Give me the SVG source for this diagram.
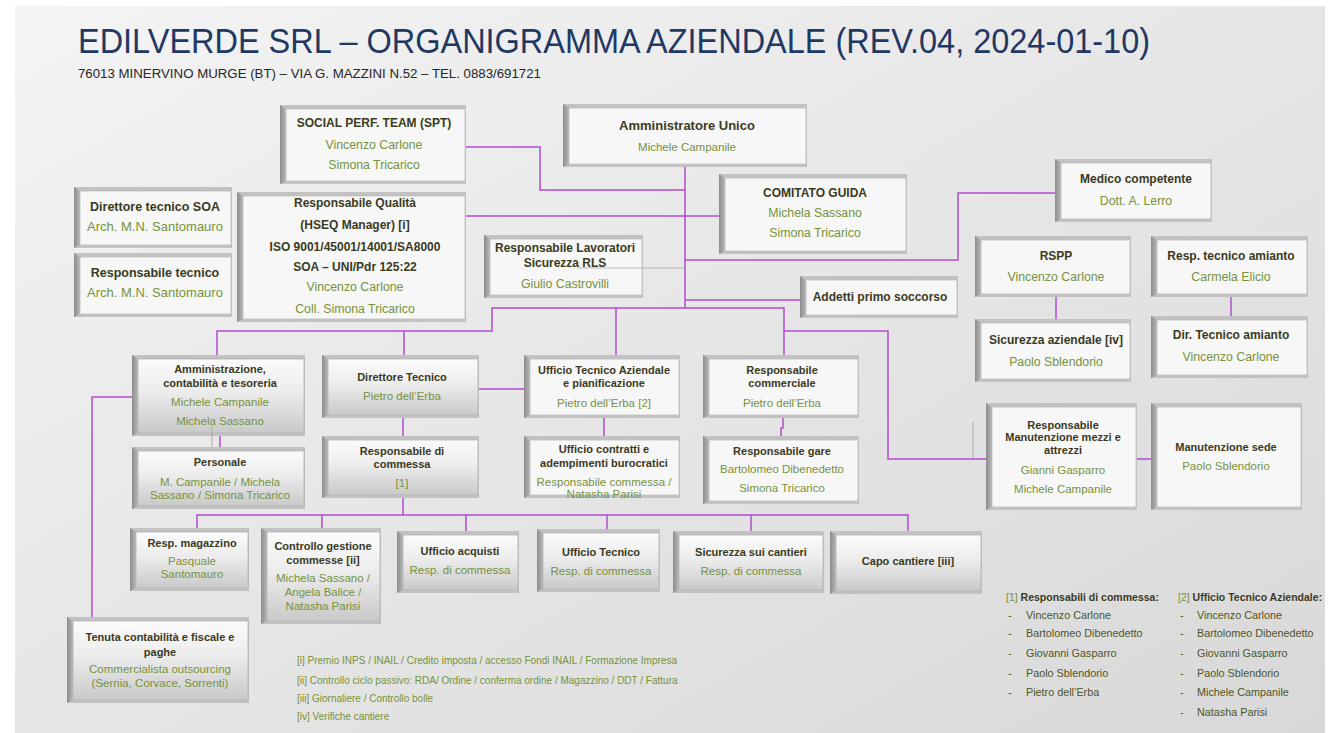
<svg xmlns="http://www.w3.org/2000/svg" width="1340" height="733" viewBox="0 0 1340 733">
<defs>
<linearGradient id="bg" x1="0" y1="0" x2="1" y2="1"><stop offset="0" stop-color="#f4f4f4"/><stop offset="0.5" stop-color="#e6e6e6"/><stop offset="1" stop-color="#d8d8d8"/></linearGradient>
<linearGradient id="lb" x1="0" y1="0" x2="1" y2="0"><stop offset="0" stop-color="#8c8c8c"/><stop offset="1" stop-color="#b8b8b8"/></linearGradient>
<linearGradient id="gf" x1="0" y1="0" x2="0" y2="1"><stop offset="0" stop-color="#fbfbfb"/><stop offset="0.45" stop-color="#ececec"/><stop offset="1" stop-color="#c9c9c9"/></linearGradient>
<linearGradient id="pl" x1="0" y1="0" x2="1" y2="0"><stop offset="0" stop-color="#a648c8"/><stop offset="1" stop-color="#c98fe0"/></linearGradient>
<style>
.o{fill:#c2c2c2}
.l{fill:url(#lb)}
.f{fill:#f7f7f7;stroke:#bdbdbd;stroke-width:0.8}
.g{fill:url(#gf);stroke:#b5b5b5;stroke-width:0.8}
text{font-family:"Liberation Sans",Arial,sans-serif}
.t{font-weight:bold;font-size:11px;fill:#3a3a22;text-anchor:middle}
.n{font-size:11.5px;fill:#76923c;text-anchor:middle}
.t2{font-weight:bold;font-size:12px;fill:#3a3a22;text-anchor:middle}
.n2{font-size:12.3px;fill:#76923c;text-anchor:middle}
.t3{font-weight:bold;font-size:13px;fill:#3a3a22;text-anchor:middle}
.tL{font-weight:bold;font-size:12.5px;fill:#3a3a22;text-anchor:middle}
.nL{font-size:13px;fill:#76923c;text-anchor:middle}
.fn{font-size:10px;fill:#76923c}
.lh{font-weight:bold;font-size:10.5px;fill:#3a3a22}
.lk{font-size:10.5px;fill:#76923c;font-weight:normal}
.ln{font-size:10.8px;fill:#4d5526}
.c{fill:none;stroke:#b24bd0;stroke-width:1.5}
.cg{fill:none;stroke:#a8a8a8;stroke-width:1.2;opacity:0.8}
</style>
</defs>
<rect width="1340" height="733" fill="#ffffff"/>
<rect x="15" y="6" width="1310" height="727" fill="url(#bg)"/>
<g id="header">
<text x="78" y="53" font-family="'Lato Light', Lato, 'Liberation Sans', sans-serif" font-weight="300" font-size="35" fill="#1f3864" textLength="1072" lengthAdjust="spacingAndGlyphs">EDILVERDE SRL – ORGANIGRAMMA AZIENDALE (REV.04, 2024-01-10)</text>
<text x="78" y="78" font-size="12.5" fill="#262626" textLength="463" lengthAdjust="spacingAndGlyphs">76013 MINERVINO MURGE (BT) – VIA G. MAZZINI N.52 – TEL. 0883/691721</text>
<line x1="68" y1="88" x2="1305" y2="88" stroke="url(#pl)" stroke-width="2"/>
</g>
<g id="nodes">
<g id="n-spt"><rect class="o" x="280" y="105" width="186" height="79"/><path class="l" d="M280 105 l6 4 v72 l-6 3 z"/><rect class="f" x="286" y="109" width="179" height="72"/>
<text class="t2" x="374" y="127">SOCIAL PERF. TEAM (SPT)</text><text class="n2" x="374" y="149">Vincenzo Carlone</text><text class="n2" x="374" y="169">Simona Tricarico</text></g>
<g id="n-au"><rect class="o" x="563" y="104" width="244" height="63"/><path class="l" d="M563 104 l6 4 v56 l-6 3 z"/><rect class="f" x="569" y="108" width="237" height="56"/>
<text class="t3" x="687" y="130">Amministratore Unico</text><text class="n" x="687" y="151">Michele Campanile</text></g>
<g id="n-cg"><rect class="o" x="719" y="174" width="188" height="80"/><path class="l" d="M719 174 l6 4 v73 l-6 3 z"/><rect class="f" x="725" y="178" width="181" height="73"/>
<text class="t2" x="815" y="197">COMITATO GUIDA</text><text class="n2" x="815" y="217">Michela Sassano</text><text class="n2" x="815" y="237">Simona Tricarico</text></g>
<g id="n-med"><rect class="o" x="1055" y="159" width="157" height="63"/><path class="l" d="M1055 159 l6 4 v56 l-6 3 z"/><rect class="f" x="1061" y="163" width="150" height="56"/>
<text class="t2" x="1136" y="183">Medico competente</text><text class="n2" x="1136" y="205">Dott. A. Lerro</text></g>
<g id="n-soa"><rect class="o" x="74" y="187" width="158" height="61"/><path class="l" d="M74 187 l6 4 v54 l-6 3 z"/><rect class="f" x="80" y="191" width="151" height="54"/>
<text class="tL" x="155" y="211">Direttore tecnico SOA</text><text class="nL" x="155" y="231">Arch. M.N. Santomauro</text></g>
<g id="n-rt"><rect class="o" x="74" y="253" width="158" height="64"/><path class="l" d="M74 253 l6 4 v57 l-6 3 z"/><rect class="f" x="80" y="257" width="151" height="57"/>
<text class="tL" x="155" y="277">Responsabile tecnico</text><text class="nL" x="155" y="297">Arch. M.N. Santomauro</text></g>
<g id="n-q"><rect class="o" x="237" y="192" width="229" height="130"/><path class="l" d="M237 192 l6 4 v123 l-6 3 z"/><rect class="f" x="243" y="196" width="222" height="123"/>
<text class="t2" x="355" y="207">Responsabile Qualità</text><text class="t2" x="355" y="229">(HSEQ Manager) [i]</text><text class="t2" x="355" y="251">ISO 9001/45001/14001/SA8000</text><text class="t2" x="355" y="271">SOA – UNI/Pdr 125:22</text><text class="n2" x="355" y="291">Vincenzo Carlone</text><text class="n2" x="355" y="313">Coll. Simona Tricarico</text></g>
<g id="n-rls"><rect class="o" x="484" y="235" width="159" height="63"/><path class="l" d="M484 235 l6 4 v56 l-6 3 z"/><rect class="f" x="490" y="239" width="152" height="56"/>
<text class="t2" x="565" y="252">Responsabile Lavoratori</text><text class="t2" x="565" y="267">Sicurezza RLS</text><text class="n2" x="565" y="288">Giulio Castrovilli</text></g>
<g id="n-add"><rect class="o" x="800" y="276" width="158" height="42"/><path class="l" d="M800 276 l6 4 v35 l-6 3 z"/><rect class="f" x="806" y="280" width="151" height="35"/>
<text class="t2" x="880" y="301">Addetti primo soccorso</text></g>
<g id="n-rspp"><rect class="o" x="975" y="236" width="156" height="61"/><path class="l" d="M975 236 l6 4 v54 l-6 3 z"/><rect class="f" x="981" y="240" width="149" height="54"/>
<text class="t2" x="1056" y="260">RSPP</text><text class="n2" x="1056" y="281">Vincenzo Carlone</text></g>
<g id="n-sicaz"><rect class="o" x="975" y="319" width="156" height="63"/><path class="l" d="M975 319 l6 4 v56 l-6 3 z"/><rect class="f" x="981" y="323" width="149" height="56"/>
<text class="t2" x="1056" y="344">Sicurezza aziendale [iv]</text><text class="n2" x="1056" y="366">Paolo Sblendorio</text></g>
<g id="n-ram"><rect class="o" x="1151" y="236" width="157" height="61"/><path class="l" d="M1151 236 l6 4 v54 l-6 3 z"/><rect class="f" x="1157" y="240" width="150" height="54"/>
<text class="t2" x="1231" y="260">Resp. tecnico amianto</text><text class="n2" x="1231" y="281">Carmela Elicio</text></g>
<g id="n-dam"><rect class="o" x="1151" y="316" width="157" height="62"/><path class="l" d="M1151 316 l6 4 v55 l-6 3 z"/><rect class="f" x="1157" y="320" width="150" height="55"/>
<text class="t2" x="1231" y="339">Dir. Tecnico amianto</text><text class="n2" x="1231" y="361">Vincenzo Carlone</text></g>
<g id="n-amm"><rect class="o" x="132" y="355" width="173" height="81"/><path class="l" d="M132 355 l6 4 v74 l-6 3 z"/><rect class="g" x="138" y="359" width="166" height="74"/>
<text class="t" x="220" y="373">Amministrazione,</text><text class="t" x="220" y="387">contabilità  e tesoreria</text><text class="n" x="220" y="406">Michele Campanile</text><text class="n" x="220" y="425">Michela Sassano</text></g>
<g id="n-dt"><rect class="o" x="322" y="355" width="157" height="63"/><path class="l" d="M322 355 l6 4 v56 l-6 3 z"/><rect class="g" x="328" y="359" width="150" height="56"/>
<text class="t" x="402" y="381">Direttore Tecnico</text><text class="n" x="402" y="400">Pietro dell’Erba</text></g>
<g id="n-uta"><rect class="o" x="524" y="355" width="156" height="63"/><path class="l" d="M524 355 l6 4 v56 l-6 3 z"/><rect class="f" x="530" y="359" width="149" height="56"/>
<text class="t" x="604" y="374">Ufficio Tecnico Aziendale</text><text class="t" x="604" y="387">e pianificazione</text><text class="n" x="604" y="407">Pietro dell’Erba [2]</text></g>
<g id="n-com"><rect class="o" x="703" y="355" width="156" height="63"/><path class="l" d="M703 355 l6 4 v56 l-6 3 z"/><rect class="f" x="709" y="359" width="149" height="56"/>
<text class="t" x="782" y="374">Responsabile</text><text class="t" x="782" y="387">commerciale</text><text class="n" x="782" y="407">Pietro dell’Erba</text></g>
<g id="n-pers"><rect class="o" x="132" y="447" width="173" height="62"/><path class="l" d="M132 447 l6 4 v55 l-6 3 z"/><rect class="g" x="138" y="451" width="166" height="55"/>
<text class="t" x="220" y="466">Personale</text><text class="n" x="220" y="486">M. Campanile / Michela</text><text class="n" x="220" y="499">Sassano / Simona Tricarico</text></g>
<g id="n-rc"><rect class="o" x="322" y="436" width="157" height="62"/><path class="l" d="M322 436 l6 4 v55 l-6 3 z"/><rect class="g" x="328" y="440" width="150" height="55"/>
<text class="t" x="402" y="455">Responsabile di</text><text class="t" x="402" y="468">commessa</text><text class="n" x="402" y="487">[1]</text></g>
<g id="n-uc"><rect class="o" x="524" y="436" width="156" height="62"/><path class="l" d="M524 436 l6 4 v55 l-6 3 z"/><rect class="f" x="530" y="440" width="149" height="55"/>
<text class="t" x="604" y="453">Ufficio contratti e</text><text class="t" x="604" y="467">adempimenti burocratici</text><text class="n" x="604" y="486">Responsabile commessa /</text><text class="n" x="604" y="498">Natasha Parisi</text></g>
<g id="n-rg"><rect class="o" x="703" y="436" width="156" height="68"/><path class="l" d="M703 436 l6 4 v61 l-6 3 z"/><rect class="f" x="709" y="440" width="149" height="61"/>
<text class="t" x="782" y="455">Responsabile gare</text><text class="n" x="782" y="473">Bartolomeo Dibenedetto</text><text class="n" x="782" y="492">Simona Tricarico</text></g>
<g id="n-rm"><rect class="o" x="986" y="403" width="151" height="107"/><path class="l" d="M986 403 l6 4 v100 l-6 3 z"/><rect class="f" x="992" y="407" width="144" height="100"/>
<text class="t" x="1063" y="429">Responsabile</text><text class="t" x="1063" y="441">Manutenzione mezzi e</text><text class="t" x="1063" y="454">attrezzi</text><text class="n" x="1063" y="474">Gianni Gasparro</text><text class="n" x="1063" y="493">Michele Campanile</text></g>
<g id="n-ms"><rect class="o" x="1151" y="403" width="151" height="107"/><path class="l" d="M1151 403 l6 4 v100 l-6 3 z"/><rect class="f" x="1157" y="407" width="144" height="100"/>
<text class="t" x="1226" y="451">Manutenzione sede</text><text class="n" x="1226" y="470">Paolo Sblendorio</text></g>
<g id="n-mag"><rect class="o" x="130" y="528" width="119" height="63"/><path class="l" d="M130 528 l6 4 v56 l-6 3 z"/><rect class="g" x="136" y="532" width="112" height="56"/>
<text class="t" x="192" y="547">Resp. magazzino</text><text class="n" x="192" y="565">Pasquale</text><text class="n" x="192" y="578">Santomauro</text></g>
<g id="n-cgc"><rect class="o" x="261" y="528" width="120" height="96"/><path class="l" d="M261 528 l6 4 v89 l-6 3 z"/><rect class="g" x="267" y="532" width="113" height="89"/>
<text class="t" x="323" y="550">Controllo gestione</text><text class="t" x="323" y="564">commesse [ii]</text><text class="n" x="323" y="582">Michela Sassano /</text><text class="n" x="323" y="596">Angela Balice /</text><text class="n" x="323" y="610">Natasha Parisi</text></g>
<g id="n-acq"><rect class="o" x="397" y="531" width="122" height="62"/><path class="l" d="M397 531 l6 4 v55 l-6 3 z"/><rect class="g" x="403" y="535" width="115" height="55"/>
<text class="t" x="460" y="555">Ufficio acquisti</text><text class="n" x="460" y="574" font-size="11">Resp. di commessa</text></g>
<g id="n-ut"><rect class="o" x="537" y="529" width="123" height="63"/><path class="l" d="M537 529 l6 4 v56 l-6 3 z"/><rect class="g" x="543" y="533" width="116" height="56"/>
<text class="t" x="601" y="556">Ufficio Tecnico</text><text class="n" x="601" y="575" font-size="11">Resp. di commessa</text></g>
<g id="n-sc"><rect class="o" x="673" y="531" width="151" height="62"/><path class="l" d="M673 531 l6 4 v55 l-6 3 z"/><rect class="g" x="679" y="535" width="144" height="55"/>
<text class="t" x="751" y="556">Sicurezza sui cantieri</text><text class="n" x="751" y="575" font-size="11">Resp. di commessa</text></g>
<g id="n-capo"><rect class="o" x="830" y="531" width="152" height="63"/><path class="l" d="M830 531 l6 4 v56 l-6 3 z"/><rect class="g" x="836" y="535" width="145" height="56"/>
<text class="t" x="908" y="565">Capo cantiere [iii]</text></g>
<g id="n-ten"><rect class="o" x="67" y="617" width="182" height="86"/><path class="l" d="M67 617 l6 4 v79 l-6 3 z"/><rect class="g" x="73" y="621" width="175" height="79"/>
<text class="t" x="160" y="641">Tenuta contabilità e fiscale e</text><text class="t" x="160" y="656">paghe</text><text class="n" x="160" y="673">Commercialista outsourcing</text><text class="n" x="160" y="687">(Sernia, Corvace, Sorrenti)</text></g>
</g>
<g id="connectors">
<path class="c" d="M685 167 V308"/>
<path class="c" d="M466 147 H540 V190 H685"/>
<path class="c" d="M466 216 H719"/>
<path class="c" d="M685 260 H958 V193 H1055"/>
<path class="c" d="M685 300 H800"/>
<path class="cg" d="M577 268 H686"/>
<path class="c" d="M685 308 H492 V331 H217 V355"/>
<path class="c" d="M404 331 V355"/>
<path class="c" d="M616 308 V355"/>
<path class="c" d="M685 308 H784 V355"/>
<path class="c" d="M784 331 H888 V459 H986"/>
<path class="c" d="M1137 459 H1151"/>
<path class="cg" d="M973 422 V458"/>
<path class="c" d="M479 389 H524"/>
<path class="c" d="M403 418 V436"/>
<path class="c" d="M604 418 V436"/>
<path class="c" d="M783 418 V428 H781 V436"/>
<path class="c" d="M220 436 V447"/>
<path class="cg" d="M212 424 V447"/>
<path class="c" d="M132 397 H92 V617"/>
<path class="c" d="M1056 297 V319"/>
<path class="c" d="M1231 297 V316"/>
<path class="c" d="M403 498 V515"/>
<path class="c" d="M197 528 V515 H908 V531"/>
<path class="c" d="M322 515 V528"/>
<path class="c" d="M466 515 V531"/>
<path class="c" d="M607 515 V529"/>
<path class="c" d="M751 515 V531"/>
</g>
<g id="footnotes">
<text class="fn" x="297" y="664">[i] Premio INPS / INAIL / Credito imposta / accesso Fondi INAIL / Formazione Impresa</text>
<text class="fn" x="297" y="684">[ii] Controllo ciclo passivo: RDA/ Ordine / conferma ordine / Magazzino / DDT / Fattura</text>
<text class="fn" x="297" y="702">[iii] Giornaliere / Controllo bolle</text>
<text class="fn" x="297" y="720">[iv] Verifiche cantiere</text>
</g>
<g id="legend">
<text class="lh" x="1006" y="601"><tspan class="lk">[1]</tspan> Responsabili di commessa:</text>
<text class="ln" x="1008" y="619">-</text><text class="ln" x="1026" y="619">Vincenzo Carlone</text>
<text class="ln" x="1008" y="637">-</text><text class="ln" x="1026" y="637">Bartolomeo Dibenedetto</text>
<text class="ln" x="1008" y="657">-</text><text class="ln" x="1026" y="657">Giovanni Gasparro</text>
<text class="ln" x="1008" y="677">-</text><text class="ln" x="1026" y="677">Paolo Sblendorio</text>
<text class="ln" x="1008" y="696">-</text><text class="ln" x="1026" y="696">Pietro dell’Erba</text>
<text class="lh" x="1178" y="601"><tspan class="lk">[2]</tspan> Ufficio Tecnico Aziendale:</text>
<text class="ln" x="1180" y="619">-</text><text class="ln" x="1197" y="619">Vincenzo Carlone</text>
<text class="ln" x="1180" y="637">-</text><text class="ln" x="1197" y="637">Bartolomeo Dibenedetto</text>
<text class="ln" x="1180" y="657">-</text><text class="ln" x="1197" y="657">Giovanni Gasparro</text>
<text class="ln" x="1180" y="677">-</text><text class="ln" x="1197" y="677">Paolo Sblendorio</text>
<text class="ln" x="1180" y="696">-</text><text class="ln" x="1197" y="696">Michele Campanile</text>
<text class="ln" x="1180" y="716">-</text><text class="ln" x="1197" y="716">Natasha Parisi</text>
</g>
</svg>
